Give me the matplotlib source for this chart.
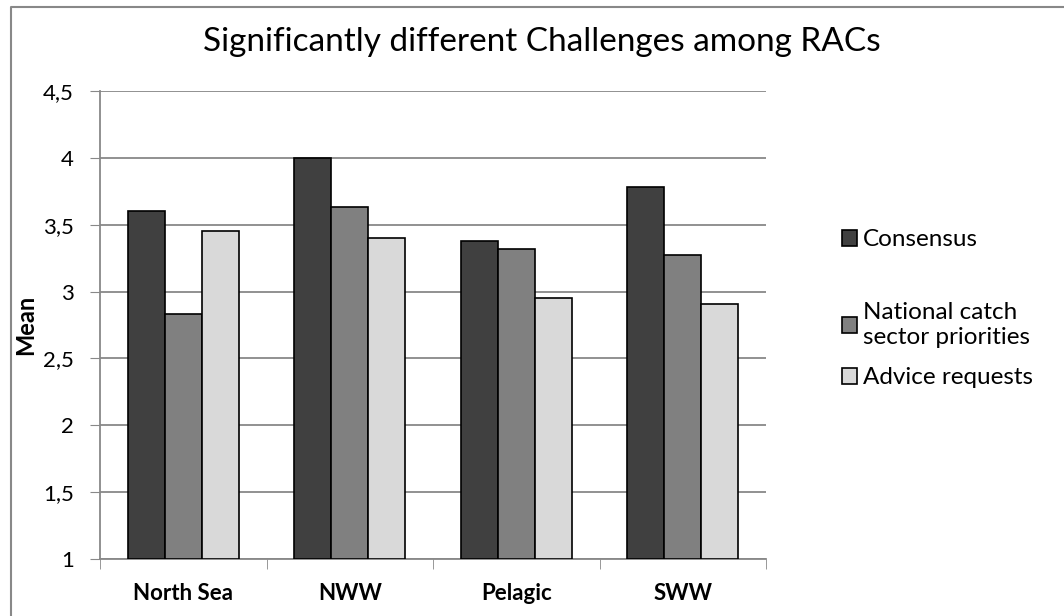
import matplotlib.pyplot as plt
import numpy as np
from matplotlib.lines import Line2D

plt.rcParams['font.family'] = ['Lato', 'DejaVu Sans']

racs = ['North Sea', 'NWW', 'Pelagic', 'SWW']
consensus = [3.60, 4.00, 3.38, 3.78]
national = [2.83, 3.63, 3.32, 3.27]
advice = [3.45, 3.40, 2.95, 2.91]
series_names = ['Consensus', 'National catch\nsector priorities', 'Advice requests']
colors = ['#404040', '#808080', '#d9d9d9']

W, H = 1064, 616
fig = plt.figure(figsize=(W / 100, H / 100), dpi=100)
ax = fig.add_axes([100 / W, 1 - 559 / H, 666 / W, 468 / H])

# chart area border (only top and left visible in the crop)
fig.lines.append(Line2D([10.5 / W, 10.5 / W, 1], [0, 1 - 6.5 / H, 1 - 6.5 / H],
                        transform=fig.transFigure, color='#888888', lw=1.5))

x = np.arange(len(racs))
w = 0.222
bars = []
for i, (vals, name) in enumerate(zip([consensus, national, advice], series_names)):
    b = ax.bar(x + (i - 1) * w, np.array(vals) - 1, bottom=1, width=w, color=colors[i],
               edgecolor='black', linewidth=1.2, label=name, zorder=3)
    bars.append(b)

yt = np.arange(1, 4.51, 0.5)
ax.set_xlim(-0.5, 3.5)
ax.set_ylim(1, 4.5)
ax.set_yticks(yt)
ax.set_yticklabels([f'{v:g}'.replace('.', ',') for v in yt], fontsize=16)
ax.set_xticks(x)
ax.set_xticklabels(racs, fontsize=16, fontweight='bold')
ax.set_xticks(np.arange(-0.5, 3.6, 1), minor=True)
ax.tick_params(axis='x', which='major', length=0, pad=17)
ax.tick_params(axis='x', which='minor', length=7, color='#888888', direction='out')
ax.tick_params(axis='y', length=7, color='#888888', direction='out', pad=12)
ax.grid(axis='y', color='#888888', lw=1.3, zorder=0)
for s in ['top', 'right']:
    ax.spines[s].set_visible(False)
for s in ['left', 'bottom']:
    ax.spines[s].set_color('#888888')
    ax.spines[s].set_linewidth(1.3)

ax.set_ylabel('Mean', fontsize=17, fontweight='bold')
ax.yaxis.set_label_coords(-0.094, 0.5)
fig.text(542 / W, 1 - 42 / H, 'Significantly different Challenges among RACs',
         fontsize=24, ha='center', va='center')

# one legend box per entry so their vertical spacing follows the reference
for b, name, yc in zip(bars, series_names, [240, 325, 378]):
    fig.legend(handles=[b], labels=[name], loc='center left',
               bbox_to_anchor=(842 / W, 1 - yc / H), frameon=False, fontsize=17.5,
               borderpad=0, borderaxespad=0, handlelength=0.62, handleheight=0.62,
               handletextpad=0.25)

fig.savefig('out.png', dpi=100)
